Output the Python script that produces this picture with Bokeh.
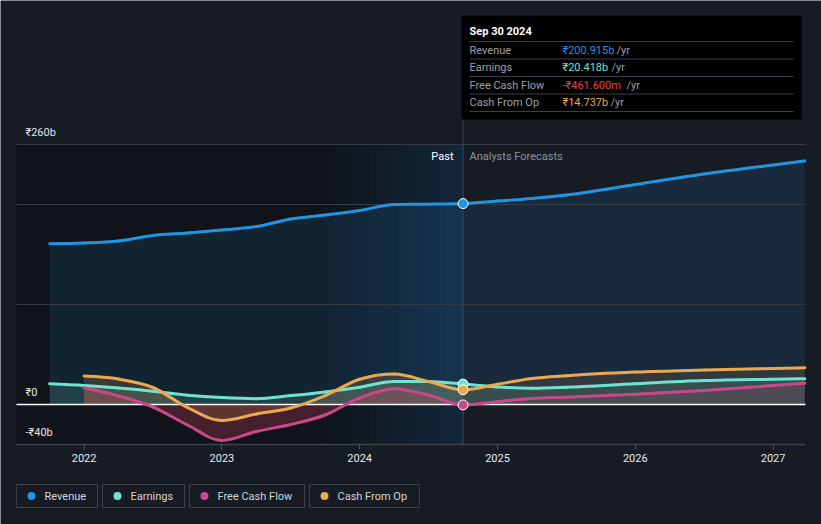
from bokeh.plotting import figure
from bokeh.models import FixedTicker, Range1d
from bokeh.core.properties import value
from bokeh.embed import file_html
from bokeh.resources import INLINE

# ---------------- data (₹ billions) ----------------
years = [2022, 2023, 2024, 2025, 2026, 2027]

past_x = [2021.75, 2022.0, 2022.25, 2022.5, 2022.75, 2023.0, 2023.25,
          2023.5, 2023.75, 2024.0, 2024.25, 2024.5, 2024.75]
revenue_past = [160.8, 161.5, 163.5, 169.0, 171.5, 174.5, 178.0,
                185.5, 189.5, 194.0, 200.0, 200.3, 200.9]
earnings_past = [20.7, 19.0, 16.4, 13.2, 9.3, 6.9, 5.8,
                 8.9, 12.6, 17.3, 23.0, 23.0, 20.4]

cash_x = [2022.0, 2022.25, 2022.5, 2022.75, 2023.0, 2023.25,
          2023.5, 2023.75, 2024.0, 2024.25, 2024.5, 2024.75]
fcf_past = [16.7, 8.5, -2.5, -20.5, -36.0, -27.0,
            -20.0, -10.5, 6.5, 15.7, 9.5, -0.46]
cfo_past = [28.5, 25.5, 17.0, -3.0, -16.0, -9.5,
            -3.5, 8.9, 25.3, 30.5, 23.0, 14.7]

fc_x = [2024.75, 2025.0, 2025.25, 2025.5, 2026.0, 2026.5, 2027.0, 2027.23]
revenue_fc = [200.9, 203.5, 206.0, 209.5, 220.0, 230.5, 239.5, 243.5]
earnings_fc = [20.4, 17.5, 16.3, 17.2, 20.8, 23.9, 25.2, 25.7]
fcf_fc = [-0.46, 2.8, 6.0, 7.3, 10.2, 14.0, 19.0, 21.3]
cfo_fc = [14.7, 20.3, 26.0, 28.8, 32.4, 34.4, 36.0, 36.7]

grid_vals = [100, 200, 260]
y_labels = [(260, "₹260b"), (0, "₹0"), (-40, "-₹40b")]

tooltip_title = "Sep 30 2024"
tooltip_rows = [("Revenue", "₹200.915b"), ("Earnings", "₹20.418b"),
                ("Free Cash Flow", "-₹461.600m"), ("Cash From Op", "₹14.737b")]
series_names = ["Revenue", "Earnings", "Free Cash Flow", "Cash From Op"]

# ---------------- style ----------------
BG = "#161b24"
C_REV = "#2394df"
C_EARN = "#6fe3cf"
C_FCF = "#c9488a"
C_CFO = "#eaa951"
FONT = value("Roboto")

W, H = 821, 524


def X(px):
    return 2022 + (px - 83.6) / 137.8


def Y(py):
    return 404.0 - py


def smooth_segments(xs, ys):
    """Monotone cubic (d3 curveMonotoneX style) bezier control points for drawing."""
    n = len(xs)
    h = [xs[i + 1] - xs[i] for i in range(n - 1)]
    s = [(ys[i + 1] - ys[i]) / h[i] for i in range(n - 1)]
    m = [0.0] * n
    for i in range(1, n - 1):
        s0, s1, h0, h1 = s[i - 1], s[i], h[i - 1], h[i]
        pp = (s0 * h1 + s1 * h0) / (h0 + h1)
        sg = (1 if s0 > 0 else -1 if s0 < 0 else 0) + (1 if s1 > 0 else -1 if s1 < 0 else 0)
        m[i] = sg * min(abs(s0), abs(s1), 0.5 * abs(pp)) if sg else 0.0
    m[0] = (3 * s[0] - m[1]) / 2 if n > 2 else s[0]
    m[-1] = (3 * s[-1] - m[-2]) / 2 if n > 2 else s[-1]
    seg = dict(x0=[], y0=[], x1=[], y1=[], cx0=[], cy0=[], cx1=[], cy1=[])
    for i in range(n - 1):
        d = h[i] / 3
        seg["x0"].append(xs[i]); seg["y0"].append(ys[i])
        seg["x1"].append(xs[i + 1]); seg["y1"].append(ys[i + 1])
        seg["cx0"].append(xs[i] + d); seg["cy0"].append(ys[i] + m[i] * d)
        seg["cx1"].append(xs[i + 1] - d); seg["cy1"].append(ys[i + 1] - m[i + 1] * d)
    return seg


p = figure(width=W, height=H, output_backend="svg", toolbar_location=None,
           x_range=Range1d(X(0), X(W)), y_range=Range1d(Y(H), Y(0)),
           y_axis_location=None, min_border=0,
           background_fill_color=BG, border_fill_color=BG, outline_line_color=None)
p.min_border_left = p.min_border_right = p.min_border_top = p.min_border_bottom = 0
p.grid.visible = False

x_left, x_right = X(16), X(805)
x_now = past_x[-1]
x_split = 2023.73

# background bands
p.quad(left=x_left, right=x_now, top=260, bottom=-40, fill_color="#080a0e",
       fill_alpha=0.45, line_color=None)
n = 30
w = (x_now - x_split) / n
for i in range(n):
    p.quad(left=x_split + i * w, right=x_split + (i + 1) * w + 0.0005, top=260, bottom=-40,
           fill_color="#1f6fb0", fill_alpha=0.02 + 0.20 * i / (n - 1), line_color=None)

# revenue area
p.varea(x=past_x, y1=0, y2=revenue_past, fill_color=C_REV, fill_alpha=0.13)
p.varea(x=fc_x, y1=0, y2=revenue_fc, fill_color=C_REV, fill_alpha=0.13)

# gridlines
p.segment(x0=[x_left] * len(grid_vals), x1=[x_right] * len(grid_vals),
          y0=grid_vals, y1=grid_vals, line_color="#343a44", line_width=1)

# small series areas
for xs, ys, c, a in [(past_x, earnings_past, C_EARN, 0.16), (fc_x, earnings_fc, C_EARN, 0.12),
                     (cash_x, cfo_past, C_CFO, 0.18), (fc_x, cfo_fc, C_CFO, 0.12),
                     (cash_x, fcf_past, "#d0455f", 0.28), (fc_x, fcf_fc, C_FCF, 0.14)]:
    p.varea(x=xs, y1=0, y2=ys, fill_color=c, fill_alpha=a)

# zero line
p.segment(x0=[x_left], x1=[x_right], y0=[0], y1=[0], line_color="#ffffff", line_width=1.5)

# divider
p.segment(x0=[x_now], x1=[x_now], y0=[-40], y1=[Y(15)], line_color="#2b4b68", line_width=1)

# lines (smooth curves through the data points)
for xs, ys, c in [(past_x + fc_x[1:], revenue_past + revenue_fc[1:], C_REV),
                  (past_x + fc_x[1:], earnings_past + earnings_fc[1:], C_EARN),
                  (cash_x + fc_x[1:], fcf_past + fcf_fc[1:], C_FCF),
                  (cash_x + fc_x[1:], cfo_past + cfo_fc[1:], C_CFO)]:
    seg = smooth_segments(xs, ys)
    p.bezier(line_color=c, line_width=3, line_cap="round", **seg)

# end dots
p.scatter(x=[x_now] * 4, y=[revenue_past[-1], earnings_past[-1], cfo_past[-1], fcf_past[-1]],
          size=10, fill_color=[C_REV, C_EARN, C_CFO, C_FCF], line_color="#ffffff", line_width=1)

# axis
p.xaxis.fixed_location = -40
p.xaxis.ticker = FixedTicker(ticks=years)
p.xaxis.axis_line_color = None
p.xaxis.major_tick_line_color = "#4a505a"
p.xaxis.major_tick_out = 5
p.xaxis.major_tick_in = 0
p.xaxis.minor_tick_line_color = None
p.xaxis.major_label_text_color = "#e8eaed"
p.xaxis.major_label_text_font = "Roboto"
p.xaxis.major_label_text_font_size = "11px"
p.xaxis.major_label_standoff = 4
p.segment(x0=[x_left], x1=[x_right], y0=[-40], y1=[-40], line_color="#3c424c", line_width=1.5)


def txt(px, py, s, color, size="11px", align="left", style="normal"):
    p.text(x=[X(px)], y=[Y(py)], text=[s], text_color=color, text_font=FONT,
           text_font_size=size, text_align=align, text_baseline="middle",
           text_font_style=style)


# y labels
for v, lab in y_labels:
    txt(25, 404 - v - 12, lab, "#e4e6ea")

txt(453, 156, "Past", "#ffffff", align="right")
txt(469, 156, "Analysts Forecasts", "#8d939c")

# tooltip
p.quad(left=X(461), right=X(801), top=Y(15), bottom=Y(119), fill_color="#000000", line_color=None)
txt(469, 31, tooltip_title, "#ffffff", style="bold")
sep_y = [41, 58.5, 76, 93.5, 111]
p.segment(x0=[X(469)] * 5, x1=[X(793)] * 5, y0=[Y(v) for v in sep_y], y1=[Y(v) for v in sep_y],
          line_color="#3a3e45", line_width=1)
row_y = [49.5, 67, 84.5, 102]
val_colors = [C_REV, C_EARN, "#e8413e", C_CFO]
yr_x = [616, 611, 626, 610]
for (lab, val), ry, vc, yx in zip(tooltip_rows, row_y, val_colors, yr_x):
    txt(469, ry, lab, "#9aa0a8")
    txt(562, ry, val, vc)
    txt(yx, ry, "/yr", "#9aa0a8")

# legend
boxes = [(16, 97), (102, 184), (189, 304), (309, 419)]
cols = [C_REV, C_EARN, C_FCF, C_CFO]
p.quad(left=[X(a) for a, b in boxes], right=[X(b) for a, b in boxes],
       top=Y(484), bottom=Y(507), fill_color=None, line_color="#3a404a", line_width=1)
p.scatter(x=[X(a + 15) for a, b in boxes], y=[Y(495.5)] * 4, size=8, fill_color=cols, line_color=None)
for (a, b), name in zip(boxes, series_names):
    txt(a + 28, 495.5, name, "#d2d5da", size="11px")

open("out.html", "w").write(file_html(p, INLINE))
